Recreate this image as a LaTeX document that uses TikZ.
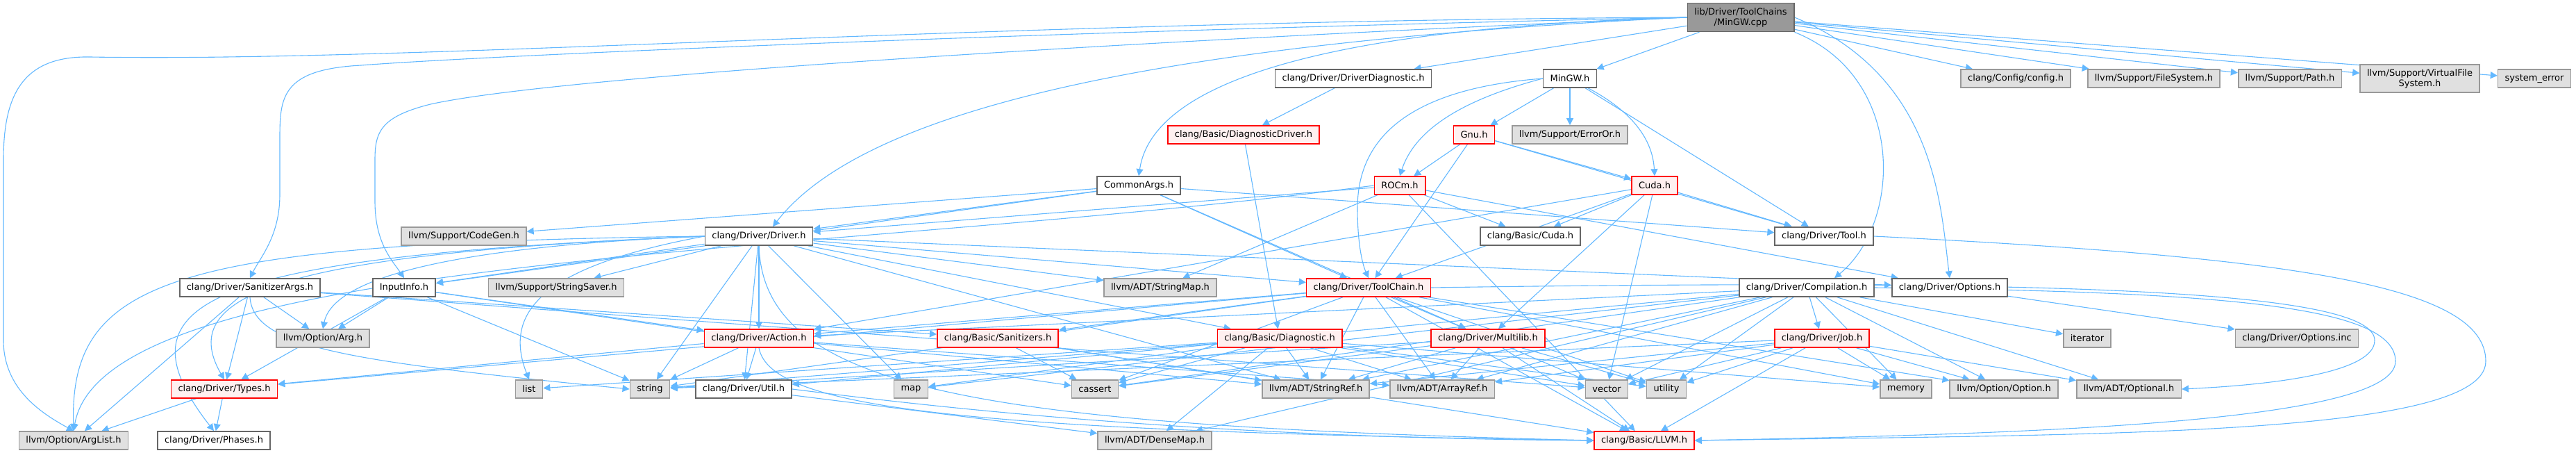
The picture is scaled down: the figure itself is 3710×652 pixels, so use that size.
\documentclass[tikz,border=0pt]{standalone}
\usepackage{fontspec}
\setmainfont{DejaVu Sans}
\usetikzlibrary{arrows.meta}
\definecolor{edgeblue}{HTML}{63B8FF}
\definecolor{redfill}{HTML}{FFF0F0}
\definecolor{extfill}{HTML}{E0E0E0}
\definecolor{extline}{HTML}{999999}
\definecolor{incline}{HTML}{666666}
\pgfdeclarelayer{edges}
\pgfsetlayers{edges,main}

\begin{document}
\begin{tikzpicture}[x=0.5pt, y=-0.5pt,
    every node/.style={font=\fontsize{6.5}{7.5}\selectfont, align=center,
      minimum height=13pt, inner xsep=5pt, inner ysep=0pt, line width=0.8pt},
    hdr/.style={draw=incline, fill=extline},
    inc/.style={draw=incline, fill=white},
    trunc/.style={draw=red, fill=redfill},
    ext/.style={draw=extline, fill=extfill},
    dep/.style={draw=edgeblue, line width=0.55pt, -{Triangle[length=5pt,width=5pt]}}]
  \useasboundingbox (0,0) rectangle (3710,652);
  % the file itself
  \node[hdr, minimum height=20.5pt] (cpp) at (2507,25) {lib/Driver/ToolChains\\/MinGW.cpp};
  % direct includes
  \node[inc] (drvdiag) at (1949,113) {clang/Driver/DriverDiagnostic.h};
  \node[inc] (mingwh) at (2261,113) {MinGW.h};
  \node[ext] (config) at (2903,113) {clang/Config/config.h};
  \node[ext] (filesys) at (3102,113) {llvm/Support/FileSystem.h};
  \node[ext] (path) at (3298,113) {llvm/Support/Path.h};
  \node[ext, minimum height=20pt] (vfs) at (3485,113) {llvm/Support/VirtualFile\\System.h};
  \node[ext] (syserr) at (3650,113) {system\_error};
  % toolchain headers
  \node[trunc] (diagdrv) at (1791,194) {clang/Basic/DiagnosticDriver.h};
  \node[trunc] (gnu) at (2123,194) {Gnu.h};
  \node[ext] (erroror) at (2261,194) {llvm/Support/ErrorOr.h};
  \node[inc] (commonargs) at (1640,267) {CommonArgs.h};
  \node[trunc] (rocm) at (2016,267) {ROCm.h};
  \node[trunc] (cudah) at (2383,267) {Cuda.h};
  % driver headers
  \node[ext] (codegen) at (668,340) {llvm/Support/CodeGen.h};
  \node[inc] (driver) at (1093,340) {clang/Driver/Driver.h};
  \node[inc] (basiccuda) at (2204,340) {clang/Basic/Cuda.h};
  \node[inc] (tool) at (2627,340) {clang/Driver/Tool.h};
  \node[inc] (sanargs) at (360,414) {clang/Driver/SanitizerArgs.h};
  \node[inc] (inputinfo) at (582,414) {InputInfo.h};
  \node[ext] (strsaver) at (801,414) {llvm/Support/StringSaver.h};
  \node[ext] (strmap) at (1671,414) {llvm/ADT/StringMap.h};
  \node[trunc] (toolchain) at (1971,414) {clang/Driver/ToolChain.h};
  \node[inc] (compilation) at (2602,414) {clang/Driver/Compilation.h};
  \node[inc] (options) at (2808,414) {clang/Driver/Options.h};
  \node[ext] (arg) at (465,487) {llvm/Option/Arg.h};
  \node[trunc] (action) at (1093,487) {clang/Driver/Action.h};
  \node[trunc] (sanitizers) at (1437,487) {clang/Basic/Sanitizers.h};
  \node[trunc] (diagnostic) at (1843,487) {clang/Basic/Diagnostic.h};
  \node[trunc] (multilib) at (2143,487) {clang/Driver/Multilib.h};
  \node[trunc] (job) at (2624,487) {clang/Driver/Job.h};
  \node[ext] (iterator) at (3006,487) {iterator};
  \node[ext] (optinc) at (3308,487) {clang/Driver/Options.inc};
  % leaves
  \node[trunc] (types) at (323,560) {clang/Driver/Types.h};
  \node[ext] (list) at (762,560) {list};
  \node[ext] (string) at (936,560) {string};
  \node[inc] (util) at (1071,560) {clang/Driver/Util.h};
  \node[ext] (map) at (1312,560) {map};
  \node[ext] (cassert) at (1577,560) {cassert};
  \node[ext] (strref) at (1895,560) {llvm/ADT/StringRef.h};
  \node[ext] (arrref) at (2077,560) {llvm/ADT/ArrayRef.h};
  \node[ext] (vector) at (2314,560) {vector};
  \node[ext] (utility) at (2400,560) {utility};
  \node[ext] (memory) at (2745,560) {memory};
  \node[ext] (option) at (2886,560) {llvm/Option/Option.h};
  \node[ext] (optional) at (3066,560) {llvm/ADT/Optional.h};
  \node[ext] (arglist) at (106,634) {llvm/Option/ArgList.h};
  \node[inc] (phases) at (308,634) {clang/Driver/Phases.h};
  \node[ext] (densemap) at (1663,634) {llvm/ADT/DenseMap.h};
  \node[trunc] (llvmh) at (2368,634) {clang/Basic/LLVM.h};

  \begin{pgfonlayer}{edges}
  % from MinGW.cpp
  \draw[dep] (cpp) -- (drvdiag);
  \draw[dep] (cpp) -- (mingwh);
  \draw[dep] (cpp) -- (config);
  \draw[dep] (cpp) -- (filesys);
  \draw[dep] (cpp) -- (path);
  \draw[dep] (cpp) -- (vfs);
  \draw[dep] (cpp) -- (syserr);
  \draw[dep] (cpp.west) .. controls (1900,40) and (1660,120) .. (commonargs.north);
  \draw[dep] (cpp.west) .. controls (1700,60) and (1250,150) .. ([xshift=10pt]driver.north);
  \draw[dep] (cpp.west) .. controls (1500,45) and (700,80) .. (520,94) .. controls (405,100) and (403,140) .. (403,200) -- (403,280) .. controls (403,340) and (375,370) .. (sanargs.north);
  \draw[dep] (cpp.west) .. controls (1600,60) and (800,110) .. (620,150) .. controls (548,168) and (540,190) .. (540,230) -- (540,290) .. controls (540,350) and (565,375) .. (inputinfo.north);
  \draw[dep] (cpp.west) .. controls (1400,30) and (600,90) .. (130,82) .. controls (30,80) and (5,140) .. (5,230) -- (5,490) .. controls (5,560) and (60,595) .. (arglist.north);
  \draw[dep] (cpp.south east) .. controls (2745,110) and (2740,320) .. ([xshift=20pt]compilation.north);
  \draw[dep] (cpp.east) .. controls (2790,110) and (2795,300) .. (options.north);
  % MinGW.h
  \draw[dep] (mingwh.west) .. controls (2120,140) and (2040,180) .. (rocm.north);
  \draw[dep] (mingwh) -- (gnu);
  \draw[dep] (mingwh) -- (erroror);
  \draw[dep] (mingwh) .. controls (2350,160) and (2380,200) .. (cudah.north);
  \draw[dep] (mingwh) -- (tool);
  \draw[dep] (mingwh.west) .. controls (2000,130) and (1955,220) .. (1955,300) .. controls (1955,350) and (1962,380) .. (toolchain.north);
  % Gnu.h
  \draw[dep] (gnu) -- (rocm);
  \draw[dep] (gnu) -- (cudah);
  \draw[dep] (gnu) -- (tool);
  \draw[dep] (gnu) -- (toolchain);
  % ROCm.h
  \draw[dep] (rocm) -- (basiccuda);
  \draw[dep] (rocm) -- (driver);
  \draw[dep] (rocm) -- (strmap);
  \draw[dep] (rocm) -- (options);
  \draw[dep] (rocm) -- (llvmh);
  \draw[dep] (rocm.west) .. controls (1200,370) and (150,360) .. (arglist.north);
  % Cuda.h
  \draw[dep] (cudah) -- (basiccuda);
  \draw[dep] (cudah) -- (tool);
  \draw[dep] (cudah) -- (toolchain);
  \draw[dep] (cudah) -- (multilib);
  \draw[dep] (cudah) -- (action);
  \draw[dep] (cudah) -- (vector);
  % CommonArgs.h
  \draw[dep] (commonargs) -- (codegen);
  \draw[dep] (commonargs) -- (driver);
  \draw[dep] (commonargs) -- (inputinfo);
  \draw[dep] (commonargs) -- (tool);
  \draw[dep] (commonargs) -- (toolchain);
  \draw[dep] (commonargs) -- (multilib);
  % Driver.h
  \draw[dep] (driver) -- (strsaver);
  \draw[dep] (driver) -- (inputinfo);
  \draw[dep] (driver) -- (action);
  \draw[dep] (driver) -- (string);
  \draw[dep] (driver) -- (util);
  \draw[dep] (driver.west) .. controls (800,380) and (720,440) .. (list.north);
  \draw[dep] (driver) -- (strmap);
  \draw[dep] (driver) -- (toolchain);
  \draw[dep] (driver) -- (options);
  \draw[dep] (driver) -- (diagnostic);
  \draw[dep] (driver) -- (strref);
  \draw[dep] (driver) -- (map);
  \draw[dep] (driver.south) .. controls (1100,560) and (1400,612) .. (llvmh.west);
  \draw[dep] (driver.west) .. controls (650,355) and (480,400) .. (arg.north);
  \draw[dep] (driver.west) .. controls (420,365) and (250,420) .. (types.north);
  \draw[dep] (driver.west) .. controls (300,370) and (160,430) .. (phases.north);
  \draw[dep] (driver.west) .. controls (250,350) and (100,400) .. (arglist.north);
  % InputInfo.h
  \draw[dep] (inputinfo) -- (arg);
  \draw[dep] (inputinfo) -- (types);
  \draw[dep] (inputinfo) -- (string);
  \draw[dep] (inputinfo) -- (action);
  \draw[dep] (inputinfo) -- (cassert);
  % SanitizerArgs.h
  \draw[dep] (sanargs) -- (arglist);
  \draw[dep] (sanargs) -- (types);
  \draw[dep] (sanargs) -- (arg);
  \draw[dep] (sanargs.south) .. controls (365,500) and (500,520) .. (string.west);
  \draw[dep] (sanargs) -- (sanitizers);
  \draw[dep] (sanargs) -- (vector);
  % Types.h
  \draw[dep] (types) -- (arglist);
  \draw[dep] (types) -- (phases);
  % Action.h
  \draw[dep] (action) -- (string);
  \draw[dep] (action) -- (util);
  \draw[dep] (action) -- (types);
  \draw[dep] (action.south) .. controls (1110,590) and (1400,620) .. (llvmh.west);
  \draw[dep] (action) -- (strref);
  \draw[dep] (action) -- (arrref);
  % Util.h
  \draw[dep] (util) -- (densemap);
  \draw[dep] (util.east) .. controls (1300,580) and (1700,630) .. (llvmh.west);
  % ToolChain.h
  \draw[dep] (toolchain) -- (strref);
  \draw[dep] (toolchain) -- (arrref);
  \draw[dep] (toolchain) -- (multilib);
  \draw[dep] (toolchain) -- (action);
  \draw[dep] (toolchain) -- (sanitizers);
  \draw[dep] (toolchain) -- (types);
  \draw[dep] (toolchain) -- (cassert);
  \draw[dep] (toolchain) -- (string);
  \draw[dep] (toolchain) -- (memory);
  \draw[dep] (toolchain) -- (option);
  \draw[dep] (toolchain) -- (utility);
  \draw[dep] (toolchain) -- (llvmh);
  \draw[dep] (toolchain.east) .. controls (3000,400) and (3420,420) .. (3420,490) .. controls (3420,540) and (3250,555) .. (optional.east);
  % Compilation.h
  \draw[dep] (compilation) -- (job);
  \draw[dep] (compilation) -- (iterator);
  \draw[dep] (compilation) -- (option);
  \draw[dep] (compilation) -- (memory);
  \draw[dep] (compilation) -- (optional);
  \draw[dep] (compilation) -- (action);
  \draw[dep] (compilation) -- (util);
  \draw[dep] (compilation) -- (map);
  \draw[dep] (compilation) -- (cassert);
  \draw[dep] (compilation) -- (strref);
  \draw[dep] (compilation) -- (arrref);
  \draw[dep] (compilation) -- (densemap);
  \draw[dep] (compilation) -- (vector);
  \draw[dep] (compilation) -- (utility);
  \draw[dep] (compilation.east) .. controls (3200,420) and (3450,440) .. (3450,520) .. controls (3450,610) and (2900,625) .. (llvmh.east);
  % Job.h
  \draw[dep] (job) -- (memory);
  \draw[dep] (job) -- (option);
  \draw[dep] (job) -- (optional);
  \draw[dep] (job) -- (llvmh);
  \draw[dep] (job) -- (utility);
  \draw[dep] (job) -- (vector);
  \draw[dep] (job) -- (arrref);
  \draw[dep] (job) -- (strref);
  \draw[dep] (job) -- (string);
  % Options.h and Tool.h
  \draw[dep] (options) -- (optinc);
  \draw[dep] (tool.east) .. controls (3300,370) and (3580,410) .. (3580,520) .. controls (3580,630) and (3000,625) .. (llvmh.east);
  % Multilib.h
  \draw[dep] (multilib) -- (llvmh);
  \draw[dep] (multilib) -- (arrref);
  \draw[dep] (multilib) -- (strref);
  \draw[dep] (multilib) -- (vector);
  \draw[dep] (multilib) -- (utility);
  \draw[dep] (multilib) -- (cassert);
  \draw[dep] (multilib) -- (string);
  % Diagnostic.h
  \draw[dep] (drvdiag) -- (diagdrv);
  \draw[dep] (diagdrv) -- (diagnostic);
  \draw[dep] (diagnostic) -- (densemap);
  \draw[dep] (diagnostic) -- (strref);
  \draw[dep] (diagnostic) -- (arrref);
  \draw[dep] (diagnostic) -- (cassert);
  \draw[dep] (diagnostic) -- (map);
  \draw[dep] (diagnostic) -- (list);
  \draw[dep] (diagnostic) -- (string);
  \draw[dep] (diagnostic) -- (memory);
  \draw[dep] (diagnostic) -- (vector);
  \draw[dep] (diagnostic) -- (utility);
  % Sanitizers.h
  \draw[dep] (sanitizers) -- (cassert);
  \draw[dep] (sanitizers) -- (strref);
  \draw[dep] (sanitizers) -- (llvmh);
  \end{pgfonlayer}
\end{tikzpicture}
\end{document}
